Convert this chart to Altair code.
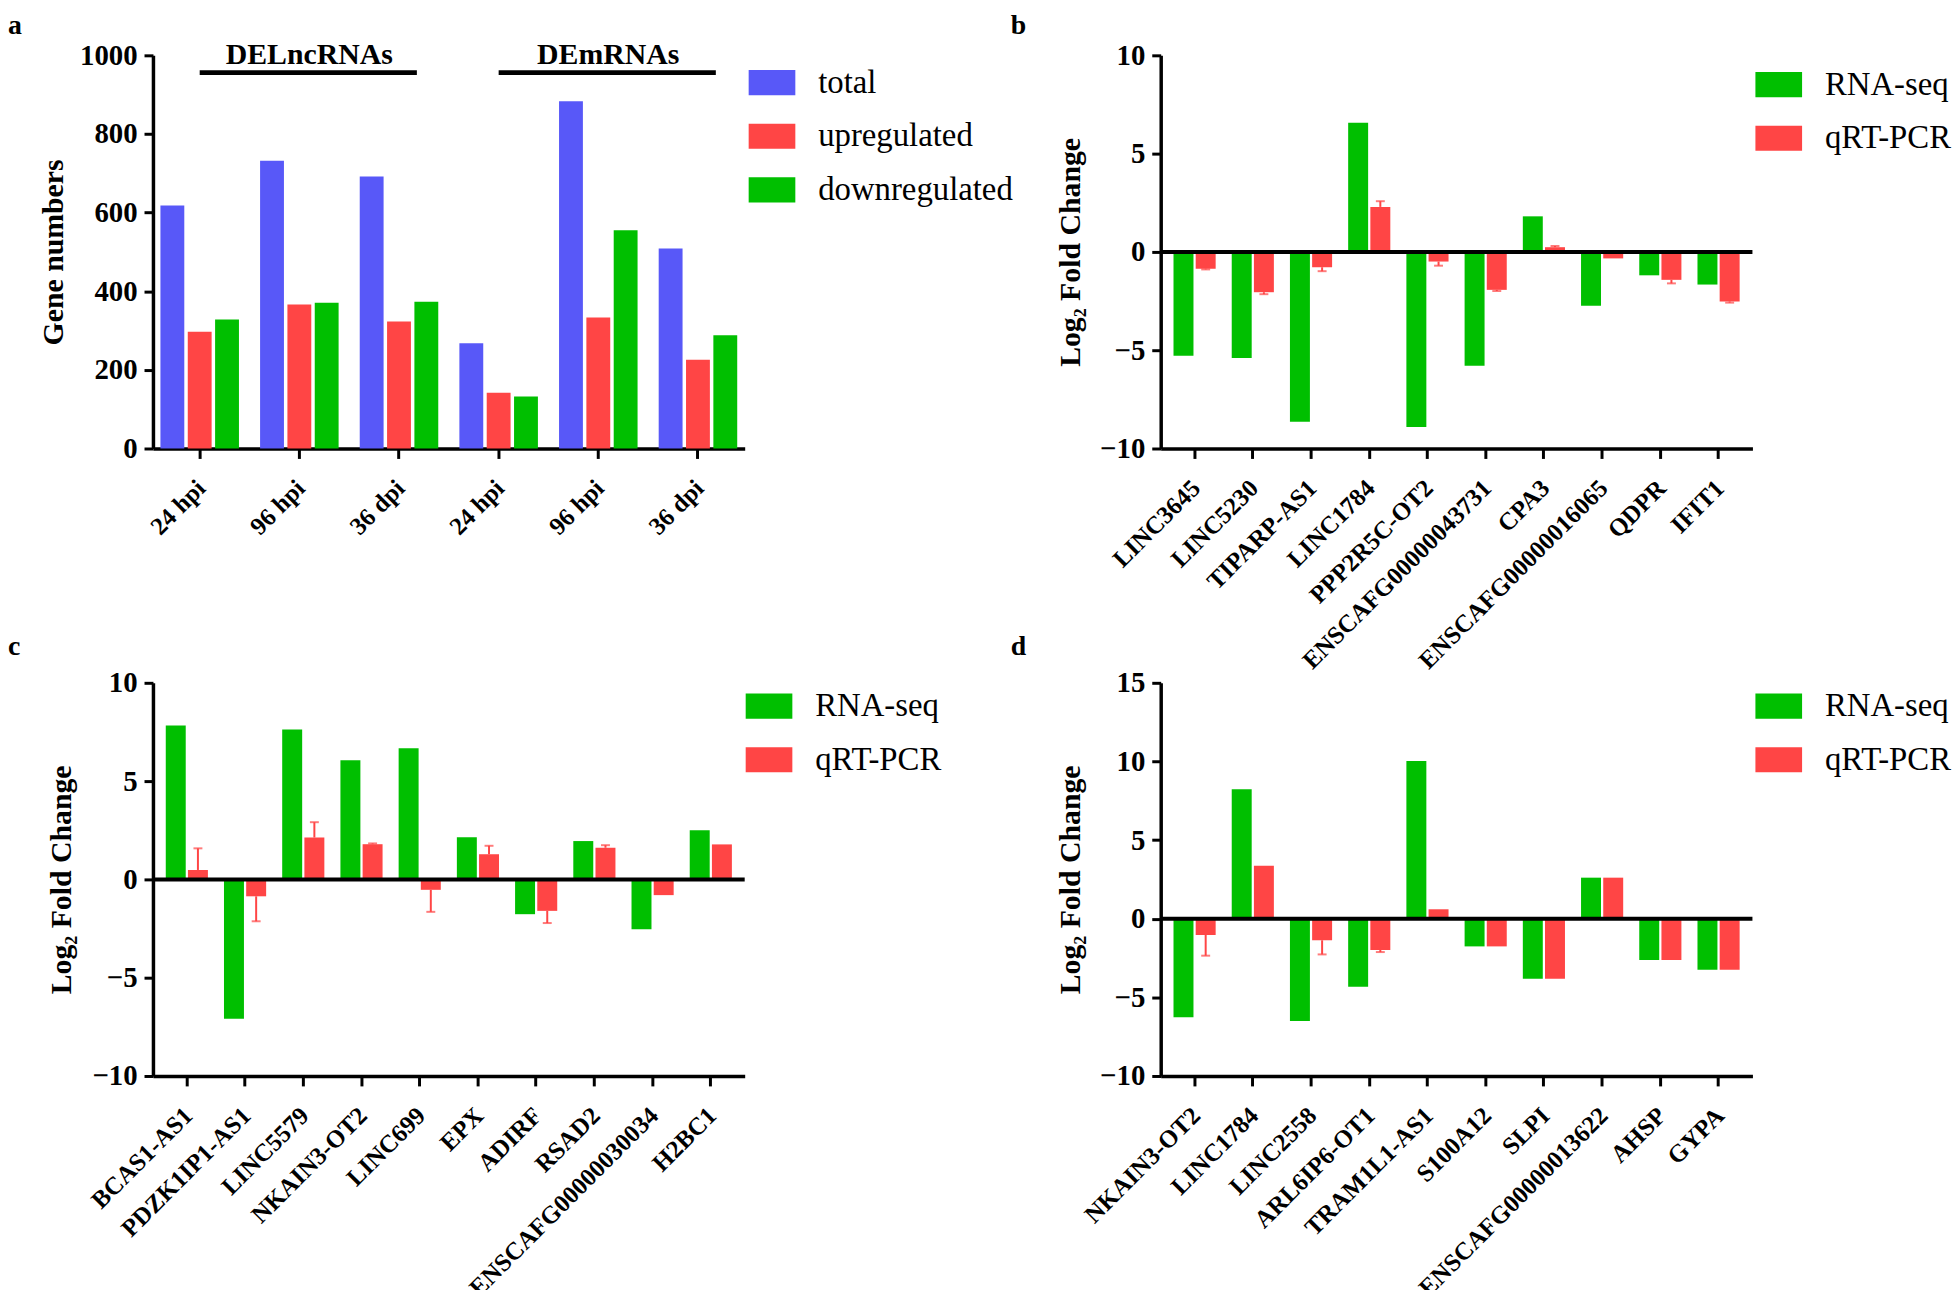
import altair as alt
import pandas as pd

SERIF = "Liberation Serif"
BLUE = "#5858F8"
RED = "#FF4545"
GREEN = "#00BF00"

# ---------------- Panel a data ----------------
a_groups = ["DELncRNAs", "DELncRNAs", "DELncRNAs", "DEmRNAs", "DEmRNAs", "DEmRNAs"]
a_times = ["24 hpi", "96 hpi", "36 dpi", "24 hpi", "96 hpi", "36 dpi"]
a_total = [618, 732, 692, 268, 883, 509]
a_up = [297, 366, 323, 142, 333, 226]
a_down = [328, 371, 373, 132, 555, 288]
a_series = ["total", "upregulated", "downregulated"]

# ---------------- Panel b data ----------------
b_genes = ["LINC3645", "LINC5230", "TIPARP-AS1", "LINC1784", "PPP2R5C-OT2",
           "ENSCAFG00000043731", "CPA3", "ENSCAFG00000016065", "QDPR", "IFIT1"]
b_rna = [-5.28, -5.40, -8.64, 6.57, -8.91, -5.79, 1.81, -2.74, -1.19, -1.66]
b_pcr = [-0.85, -2.05, -0.78, 2.29, -0.49, -1.93, 0.24, -0.33, -1.42, -2.52]
b_err = [-0.89, -2.15, -0.98, 2.58, -0.70, -1.99, 0.30, None, -1.60, -2.58]

# ---------------- Panel c data ----------------
c_genes = ["BCAS1-AS1", "PDZK1IP1-AS1", "LINC5579", "NKAIN3-OT2", "LINC699",
           "EPX", "ADIRF", "RSAD2", "ENSCAFG00000030034", "H2BC1"]
c_rna = [7.83, -7.09, 7.62, 6.06, 6.67, 2.14, -1.77, 1.95, -2.54, 2.50]
c_pcr = [0.48, -0.86, 2.13, 1.79, -0.53, 1.28, -1.60, 1.61, -0.80, 1.78]
c_err = [1.58, -2.13, 2.91, 1.83, -1.65, 1.71, -2.22, 1.74, None, None]

# ---------------- Panel d data ----------------
d_genes = ["NKAIN3-OT2", "LINC1784", "LINC2558", "ARL6IP6-OT1", "TRAM1L1-AS1",
           "S100A12", "SLPI", "ENSCAFG00000013622", "AHSP", "GYPA"]
d_rna = [-6.26, 8.24, -6.50, -4.33, 10.03, -1.76, -3.81, 2.61, -2.63, -3.25]
d_pcr = [-1.03, 3.36, -1.37, -1.99, 0.60, -1.76, -3.81, 2.61, -2.63, -3.25]
d_err = [-2.35, None, -2.27, -2.12, None, None, None, None, None, None]

FC_SERIES = ["RNA-seq", "qRT-PCR"]

W, H = 596, 396
RECT = "M-1,-0.54L1,-0.54L1,0.54L-1,0.54Z"


def y_axis(title, values, pad):
    return alt.Axis(title=title, values=values, format="d", grid=False, domainColor="black",
                    domainWidth=3.5, tickColor="black", tickWidth=3, tickSize=9,
                    labelFont=SERIF, labelFontSize=29, labelFontWeight="bold",
                    labelColor="black", labelPadding=7, labelFlush=False,
                    labelOverlap=False, titleFont=SERIF, titleFontSize=30,
                    titleFontWeight="bold", titleColor="black", titlePadding=pad)


def x_axis(label_expr=None):
    kw = dict(title=None, labelAngle=-45, domainColor="black", domainWidth=3.5,
              tickColor="black", tickWidth=3, tickSize=10, labelFont=SERIF,
              labelFontSize=25, labelFontWeight="bold", labelColor="black",
              labelPadding=17, labelOffset=-7, labelLimit=500, labelOverlap=False)
    if label_expr:
        kw["labelExpr"] = label_expr
    return alt.Axis(**kw)


def legend(lx, ly):
    return alt.Legend(title=None, orient="none", legendX=lx, legendY=ly,
                      symbolType=RECT, symbolSize=2209, symbolStrokeWidth=0,
                      symbolOpacity=1, labelFont=SERIF, labelFontSize=33,
                      labelFontWeight="normal", labelColor="black", labelLimit=500,
                      labelOffset=23, rowPadding=13, padding=0)


def letter(t, lx, ly):
    return alt.Chart(pd.DataFrame({"t": [t]})).mark_text(
        font=SERIF, fontSize=28, fontWeight="bold", align="left",
        baseline="alphabetic", color="black"
    ).encode(text="t:N", x=alt.value(lx), y=alt.value(ly))


# ---------------- Panel a ----------------
a_keys = [g + "|" + t for g, t in zip(a_groups, a_times)]
a_rows = []
for k, tv, uv, dv in zip(a_keys, a_total, a_up, a_down):
    for s, v in zip(a_series, [tv, uv, dv]):
        a_rows.append({"key": k, "series": s, "value": v})
a_df = pd.DataFrame(a_rows)

a_xscale = alt.Scale(domain=a_keys, paddingInner=0.212, paddingOuter=0.075)
a_xaxis = x_axis("split(datum.label, '|')[1]")
a_yscale = alt.Scale(domain=[0, 1000], nice=False)
a_yaxis = y_axis("Gene numbers", [0, 200, 400, 600, 800, 1000], 11)

a_bars = alt.Chart(a_df).mark_bar().encode(
    x=alt.X("key:N", scale=a_xscale, axis=a_xaxis),
    xOffset=alt.XOffset("series:N", scale=alt.Scale(domain=a_series, paddingInner=0.127)),
    y=alt.Y("value:Q", scale=a_yscale, axis=a_yaxis),
    color=alt.Color("series:N",
                    scale=alt.Scale(domain=a_series, range=[BLUE, RED, GREEN]),
                    legend=legend(600, 4)),
)

grp_names = ["DELncRNAs", "DEmRNAs"]
grp_df = pd.DataFrame({
    "key": [a_keys[0], a_keys[3]],
    "last": [a_keys[2], a_keys[5]],
    "name": grp_names,
})
grp_mid = pd.DataFrame({"key": [a_keys[1], a_keys[4]], "name": grp_names})
a_grp_rule = alt.Chart(grp_df).mark_rule(color="black", strokeWidth=5, x2Offset=18).encode(
    x=alt.X("key:N", scale=a_xscale, axis=a_xaxis), x2="last:N",
    y=alt.datum(956))
a_grp_text = alt.Chart(grp_mid).mark_text(
    font=SERIF, fontSize=30, fontWeight="bold", color="black",
    baseline="alphabetic", dx=10
).encode(x=alt.X("key:N", scale=a_xscale, axis=a_xaxis),
         y=alt.datum(977), text="name:N")

panel_a = alt.layer(a_bars, a_grp_rule, a_grp_text, letter("a", -146, -21)).properties(width=W, height=H)


# ---------------- Fold-change panels ----------------
def fc_panel(t, genes, rna, pcr, err, ydom, yvals, lx, ly, tpad, letx, lety):
    n = len(genes)
    long = pd.DataFrame({"gene": genes * 2,
                         "series": ["RNA-seq"] * n + ["qRT-PCR"] * n,
                         "value": rna + pcr})
    errdf = pd.DataFrame({"gene": genes, "series": ["qRT-PCR"] * n,
                          "value": pcr,
                          "err": [e if e is not None else float("nan") for e in err]}).dropna()
    xsc = alt.Scale(domain=genes, paddingInner=0.276, paddingOuter=0.22)
    xax = x_axis()
    xoff = alt.XOffset("series:N", scale=alt.Scale(domain=FC_SERIES, paddingInner=0.1))
    ysc = alt.Scale(domain=ydom, nice=False, zero=False)
    yax = y_axis("Log\u2082 Fold Change", yvals, tpad)
    xenc = alt.X("gene:N", scale=xsc, axis=xax)
    bars = alt.Chart(long).mark_bar().encode(
        x=xenc, xOffset=xoff,
        y=alt.Y("value:Q", scale=ysc, axis=yax),
        color=alt.Color("series:N",
                        scale=alt.Scale(domain=FC_SERIES, range=[GREEN, RED]),
                        legend=legend(lx, ly)),
    )
    stems = alt.Chart(errdf).mark_rule(color=RED, strokeWidth=2).encode(
        x=xenc, xOffset=xoff,
        y=alt.Y("value:Q", scale=ysc, axis=yax), y2="err:Q")
    caps = alt.Chart(errdf).mark_tick(color=RED, thickness=2, size=9, orient="horizontal").encode(
        x=xenc, xOffset=xoff,
        y=alt.Y("err:Q", scale=ysc, axis=yax))
    zero = alt.Chart(pd.DataFrame({"z": [0]})).mark_rule(color="black", strokeWidth=4).encode(
        y=alt.Y("z:Q", scale=ysc, axis=yax))
    return alt.layer(bars, stems, caps, zero, letter(t, letx, lety)).properties(width=W, height=H)


panel_b = fc_panel("b", b_genes, b_rna, b_pcr, b_err, [-10, 10], [-10, -5, 0, 5, 10],
                   599, 6, 14, -151, -21)
panel_c = fc_panel("c", c_genes, c_rna, c_pcr, c_err, [-10, 10], [-10, -5, 0, 5, 10],
                   597, 0, 16, -146, -28)
panel_d = fc_panel("d", d_genes, d_rna, d_pcr, d_err, [-10, 15], [-10, -5, 0, 5, 10, 15],
                   599, 0, 14, -151, -28)

chart = alt.concat(panel_a, panel_b, panel_c, panel_d, columns=2,
                   spacing={"row": 236, "column": 419}, bounds="flush").resolve_scale(
    x="independent", y="independent", color="independent", xOffset="independent"
).resolve_legend(color="independent").resolve_axis(x="independent", y="independent").properties(
    padding=0
).configure_view(stroke=None)

chart.save("out.html", embed_options={"renderer": "svg", "actions": False})
